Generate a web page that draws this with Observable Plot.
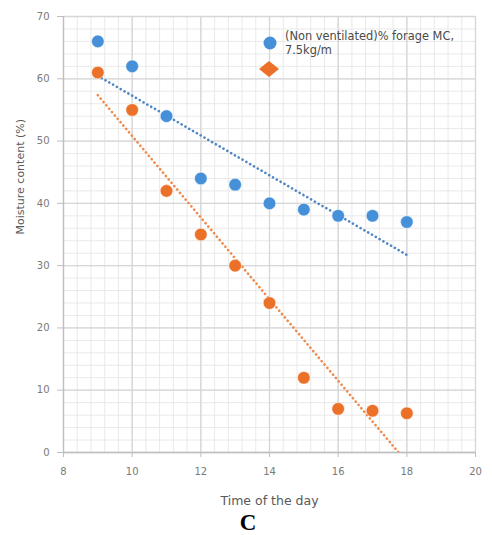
<!DOCTYPE html>
<html>
<head>
<meta charset="utf-8">
<script src="https://cdn.jsdelivr.net/npm/d3@7"></script>
<script src="https://cdn.jsdelivr.net/npm/@observablehq/plot@0.6"></script>
<style>
  body { margin: 0; background: #fff; font-family: "DejaVu Sans", sans-serif; }
  #wrap { position: relative; width: 492px; }
  #legend { position: absolute; left: 259px; top: 30px; font-size: 11.4px; color: #4a4a4a; line-height: 13.5px; }
  #legend .row { display: flex; align-items: flex-start; }
  #legend svg { flex: none; }
  #caption { text-align: center; font-family: "Liberation Serif", "DejaVu Serif", serif; font-weight: bold; font-size: 23px; line-height: 22px; color: #000; margin-top: 3px; padding-left: 4px; }
</style>
</head>
<body>
<div id="wrap"></div>
<script>
// Moisture content of forage over the day
const hours = [9, 10, 11, 12, 13, 14, 15, 16, 17, 18];
const nonVentilated = [66, 62, 54, 44, 43, 40, 39, 38, 38, 37];
const ventilated = [61, 55, 42, 35, 30, 24, 12, 7, 6.7, 6.3];
const seriesNames = ["(Non ventilated)% forage MC, 7.5kg/m", "Ventilated"];
const seriesColors = ["#4590d8", "#ec7128"];
const trendColors = ["#4f86c4", "#ee8a4c"];
const xTicks = [8, 10, 12, 14, 16, 18, 20];
const yTicks = [0, 10, 20, 30, 40, 50, 60, 70];
const xLabel = "Time of the day";
const yLabel = "Moisture content (%)";
const captionText = "C";

const rows = [
  ...hours.map((h, i) => ({hour: h, mc: nonVentilated[i], series: seriesNames[0]})),
  ...hours.map((h, i) => ({hour: h, mc: ventilated[i], series: seriesNames[1]}))
];

const xMinor = d3.range(8, 20.001, 0.4);
const yMinor = d3.range(0, 70.001, 2);

const chart = Plot.plot({
  width: 492,
  height: 509,
  marginLeft: 63,
  marginRight: 17,
  marginTop: 16,
  marginBottom: 57,
  style: {fontFamily: "'DejaVu Sans', sans-serif", fontSize: "10px", color: "#595959", background: "#fff"},
  x: {domain: [8, 20]},
  y: {domain: [0, 70]},
  color: {domain: seriesNames, range: seriesColors},
  marks: [
    Plot.ruleX(xMinor, {stroke: "#e9e9e9", strokeWidth: 1}),
    Plot.ruleY(yMinor, {stroke: "#e9e9e9", strokeWidth: 1}),
    Plot.ruleX(xTicks, {stroke: "#d6d6d6", strokeWidth: 1.3}),
    Plot.ruleY(yTicks, {stroke: "#d6d6d6", strokeWidth: 1.3}),
    Plot.axisX({ticks: xTicks, tickSize: 5, tickPadding: 10, stroke: "#bfbfbf", label: null, fill: "#7a7a7a"}),
    Plot.axisY({ticks: yTicks, tickSize: 6, tickPadding: 8, stroke: "#bfbfbf", label: null, fill: "#7a7a7a"}),
    Plot.ruleX([8], {stroke: "#bfbfbf", strokeWidth: 1.3}),
    Plot.ruleY([0], {stroke: "#bfbfbf", strokeWidth: 1.3}),
    Plot.linearRegressionY(rows.filter(d => d.series === seriesNames[0]), {
      x: "hour", y: "mc", ci: 0, stroke: trendColors[0], strokeWidth: 2.6,
      strokeDasharray: "0.1 4.3", strokeLinecap: "round", clip: true
    }),
    Plot.linearRegressionY(rows.filter(d => d.series === seriesNames[1]), {
      x: "hour", y: "mc", ci: 0, stroke: trendColors[1], strokeWidth: 2.6,
      strokeDasharray: "0.1 4.3", strokeLinecap: "round", clip: true
    }),
    Plot.dot(rows, {x: "hour", y: "mc", fill: "series", r: 6.3, stroke: "#fff", strokeOpacity: 0.5, strokeWidth: 1}),
    Plot.text([yLabel], {frameAnchor: "left", rotate: -90, dx: -43, text: d => d, fontSize: 11, fill: "#595959"}),
    Plot.text([xLabel], {frameAnchor: "bottom", dy: 48, lineAnchor: "middle", text: d => d, fontSize: 12.5, fill: "#595959"})
  ]
});

const wrap = document.getElementById("wrap");
wrap.appendChild(chart);

// In-plot legend (top right)
const legend = document.createElement("div");
legend.id = "legend";
legend.innerHTML = `
  <div class="row">
    <svg width="22" height="22"><circle cx="11" cy="13" r="6.5" fill="${seriesColors[0]}"/></svg>
    <div style="margin-left:4px">${seriesNames[0].replace(", ", ",<br>")}</div>
  </div>
  <div class="row">
    <svg width="24" height="22"><polygon points="0,12 10,4 20,12 10,20" fill="${seriesColors[1]}"/><circle cx="10" cy="12" r="6" fill="${seriesColors[1]}"/></svg>
  </div>`;
wrap.appendChild(legend);

const caption = document.createElement("div");
caption.id = "caption";
caption.textContent = captionText;
document.body.appendChild(caption);
</script>
</body>
</html>
